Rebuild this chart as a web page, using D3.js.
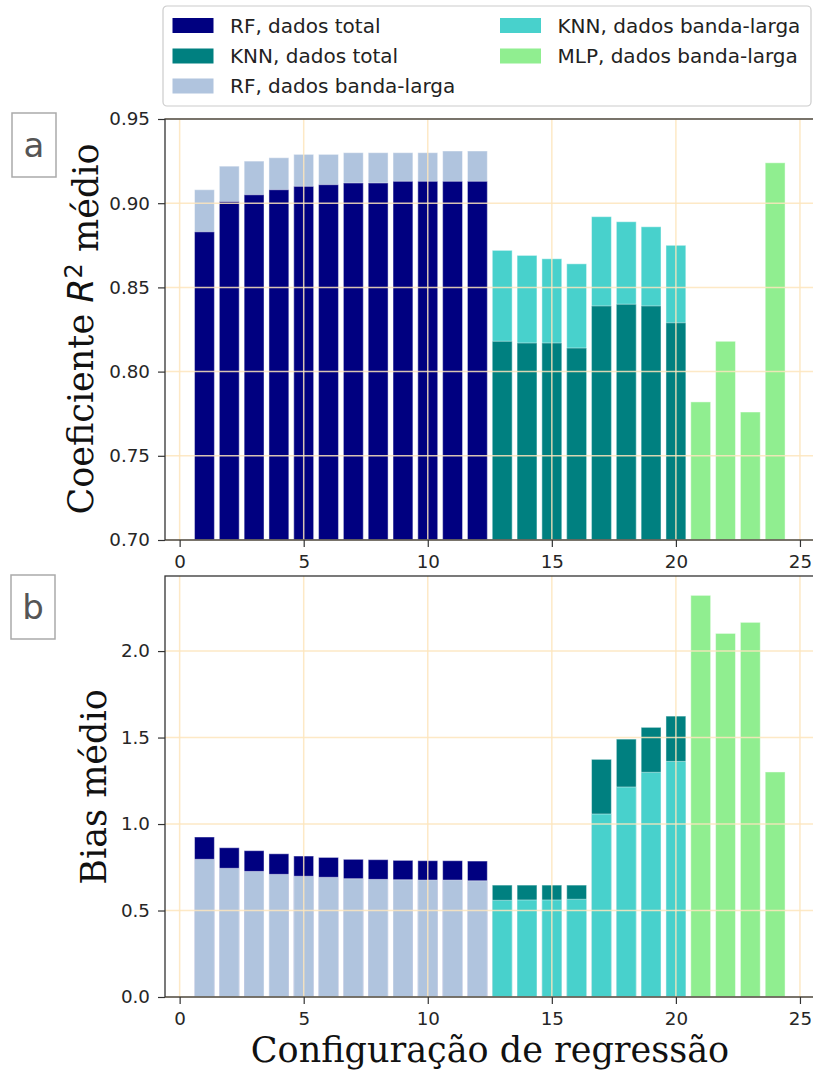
<!DOCTYPE html>
<html>
<head>
<meta charset="utf-8">
<script src="https://d3js.org/d3.v7.min.js"></script>
<style>
  body { margin: 0; background: #fff; }
  text { font-family: "DejaVu Sans", sans-serif; }
</style>
</head>
<body>
<script>
// configurations 1..24
var rfConfigs = d3.range(1, 13);
var knnConfigs = d3.range(13, 21);
var mlpConfigs = d3.range(21, 25);

// panel a: mean R2
var rfTotalR2 = [0.883, 0.901, 0.905, 0.908, 0.910, 0.911, 0.912, 0.912, 0.913, 0.913, 0.913, 0.913];
var rfBandaR2 = [0.908, 0.922, 0.925, 0.927, 0.929, 0.929, 0.930, 0.930, 0.930, 0.930, 0.931, 0.931];
var knnTotalR2 = [0.818, 0.817, 0.817, 0.814, 0.839, 0.840, 0.839, 0.829];
var knnBandaR2 = [0.872, 0.869, 0.867, 0.864, 0.892, 0.889, 0.886, 0.875];
var mlpBandaR2 = [0.782, 0.818, 0.776, 0.924];

// panel b: mean bias
var rfTotalBias = [0.925, 0.863, 0.846, 0.828, 0.815, 0.807, 0.796, 0.794, 0.790, 0.788, 0.788, 0.786];
var rfBandaBias = [0.796, 0.744, 0.726, 0.709, 0.698, 0.692, 0.684, 0.680, 0.678, 0.676, 0.676, 0.672];
var knnTotalBias = [0.647, 0.647, 0.647, 0.647, 1.374, 1.491, 1.559, 1.624];
var knnBandaBias = [0.559, 0.561, 0.561, 0.565, 1.058, 1.214, 1.299, 1.362];
var mlpBandaBias = [2.322, 2.102, 2.166, 1.301];

var xTicks = [0, 5, 10, 15, 20, 25];
var yTicksA = [0.70, 0.75, 0.80, 0.85, 0.90, 0.95];
var yTicksB = [0.0, 0.5, 1.0, 1.5, 2.0];

var legendItems = [
  {label: "RF, dados total", color: "#000080"},
  {label: "KNN, dados total", color: "#008080"},
  {label: "RF, dados banda-larga", color: "#b0c4de"},
  {label: "KNN, dados banda-larga", color: "#48d1cc"},
  {label: "MLP, dados banda-larga", color: "#90ee90"}
];
var col = {rfT: "#000080", knnT: "#008080", rfB: "#b0c4de", knnB: "#48d1cc", mlp: "#90ee90"};

var W = 813, H = 1073;
var svg = d3.select("body").append("svg").attr("width", W).attr("height", H);

var x = d3.scaleLinear().domain([-0.59, 25.59]).range([165, 814.6]);
var barW = x(0.8) - x(0);
var gridColor = "#fde6bd";

function panel(y, ticks, fmt, series) {
  var g = svg.append("g");
  // bars, back to front
  series.forEach(function(s) {
    g.append("g").selectAll("rect")
      .data(s.values.map(function(v, i) { return {x: s.x[i], v: v}; }))
      .join("rect")
        .attr("x", function(d) { return x(d.x) - barW / 2; })
        .attr("width", barW)
        .attr("y", function(d) { return y(d.v); })
        .attr("height", function(d) { return y.range()[0] - y(d.v); })
        .attr("fill", s.color)
        .attr("stroke", "#ffffff")
        .attr("stroke-opacity", 0.45)
        .attr("stroke-width", 1);
  });
  // grid on top
  var x0 = x.range()[0], x1 = x.range()[1];
  var y0 = y.range()[0], y1 = y.range()[1];
  g.append("g").selectAll("line.h").data(ticks).join("line")
    .attr("x1", x0).attr("x2", x1)
    .attr("y1", function(d) { return y(d); }).attr("y2", function(d) { return y(d); })
    .attr("stroke", gridColor).attr("stroke-width", 1.5).attr("opacity", 0.85);
  g.append("g").selectAll("line.v").data(xTicks).join("line")
    .attr("y1", y0).attr("y2", y1)
    .attr("x1", function(d) { return x(d); }).attr("x2", function(d) { return x(d); })
    .attr("stroke", gridColor).attr("stroke-width", 1.5).attr("opacity", 0.85);

  // axes
  var ax = g.append("g").attr("transform", "translate(0," + y0 + ")")
    .call(d3.axisBottom(x).tickValues(xTicks).tickSize(7).tickPadding(8).tickSizeOuter(0));
  var ay = g.append("g").attr("transform", "translate(" + x0 + ",0)")
    .call(d3.axisLeft(y).tickValues(ticks).tickFormat(fmt).tickSize(7).tickPadding(8).tickSizeOuter(0));
  [ax, ay].forEach(function(a) {
    a.select(".domain").remove();
    a.selectAll("line").attr("stroke", "#333").attr("stroke-width", 1.2);
    a.selectAll("text").attr("fill", "#262626").style("font-size", "18.3px")
      .style("font-family", "'DejaVu Sans', sans-serif");
  });
  g.append("rect").attr("x", x0).attr("y", y1).attr("width", x1 - x0).attr("height", y0 - y1)
    .attr("fill", "none").attr("stroke", "#333").attr("stroke-width", 1.3);
}

var yA = d3.scaleLinear().domain([0.70, 0.95]).range([540, 119]);
var yB = d3.scaleLinear().domain([0, 2.434]).range([997, 576]);

panel(yA, yTicksA, d3.format(".2f"), [
  {x: rfConfigs, values: rfBandaR2, color: col.rfB},
  {x: rfConfigs, values: rfTotalR2, color: col.rfT},
  {x: knnConfigs, values: knnBandaR2, color: col.knnB},
  {x: knnConfigs, values: knnTotalR2, color: col.knnT},
  {x: mlpConfigs, values: mlpBandaR2, color: col.mlp}
]);
panel(yB, yTicksB, d3.format(".1f"), [
  {x: rfConfigs, values: rfTotalBias, color: col.rfT},
  {x: rfConfigs, values: rfBandaBias, color: col.rfB},
  {x: knnConfigs, values: knnTotalBias, color: col.knnT},
  {x: knnConfigs, values: knnBandaBias, color: col.knnB},
  {x: mlpConfigs, values: mlpBandaBias, color: col.mlp}
]);

// axis titles
var titleFont = "35px";
svg.append("text")
  .attr("transform", "translate(93,329) rotate(-90)")
  .attr("text-anchor", "middle")
  .style("font-family", "'DejaVu Serif', serif").style("font-size", titleFont).attr("fill", "#111")
  .call(function(t) {
    t.append("tspan").text("Coeficiente ");
    t.append("tspan").text("R").style("font-style", "italic").style("font-family", "'DejaVu Sans', sans-serif");
    t.append("tspan").text("2").attr("dy", "-0.45em").style("font-size", "24px").style("font-family", "'DejaVu Sans', sans-serif");
    t.append("tspan").text(" médio").attr("dy", "0.45em");
  });
svg.append("text")
  .attr("transform", "translate(106,787) rotate(-90)")
  .attr("text-anchor", "middle")
  .style("font-family", "'DejaVu Serif', serif").style("font-size", titleFont).attr("fill", "#111")
  .text("Bias médio");
svg.append("text")
  .attr("x", 490).attr("y", 1062)
  .attr("text-anchor", "middle")
  .style("font-family", "'DejaVu Serif', serif").style("font-size", titleFont).attr("fill", "#111")
  .text("Configuração de regressão");

// panel letters
[{t: "a", x: 12, y: 113}, {t: "b", x: 11, y: 575}].forEach(function(p) {
  svg.append("rect").attr("x", p.x).attr("y", p.y).attr("width", 44).attr("height", 64)
    .attr("fill", "#fff").attr("stroke", "#aaa").attr("stroke-width", 1.5);
  svg.append("text").attr("x", p.x + 22).attr("y", p.y + 44).attr("text-anchor", "middle")
    .style("font-size", "34px").attr("fill", "#555").text(p.t);
});

// legend
var leg = svg.append("g");
leg.append("rect").attr("x", 163).attr("y", 6).attr("width", 648).attr("height", 100)
  .attr("rx", 4).attr("fill", "#fff").attr("stroke", "#ccc").attr("stroke-width", 1.2);
var rowsY = [25.5, 56, 86];
leg.selectAll("g.item").data(legendItems).join("g")
  .attr("transform", function(d, i) {
    var c = i < 3 ? 0 : 1, r = i < 3 ? i : i - 3;
    return "translate(" + (c === 0 ? 172.5 : 500) + "," + rowsY[r] + ")";
  })
  .call(function(g) {
    g.append("rect").attr("x", 0).attr("y", -7.5).attr("width", 41).attr("height", 15).attr("fill", function(d) { return d.color; });
    g.append("text").attr("x", 57.5).attr("dy", "0.36em").style("font-size", "20px").attr("fill", "#222")
      .text(function(d) { return d.label; });
  });
</script>
</body>
</html>
